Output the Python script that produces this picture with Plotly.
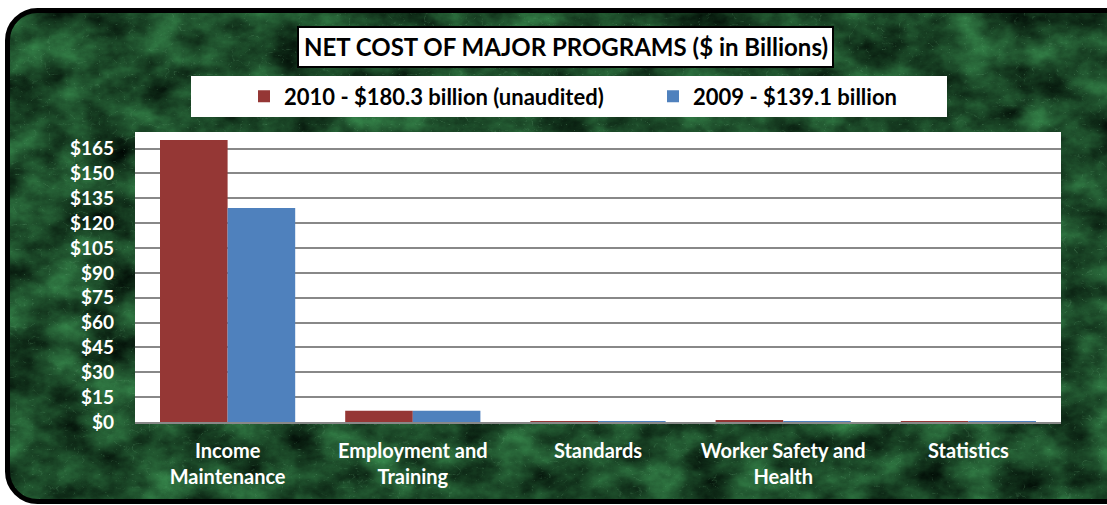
import base64
import plotly.graph_objects as go

# Net cost of the major programs, $ billions
categories = ["Income<br>Maintenance", "Employment and<br>Training", "Standards",
              "Worker Safety and<br>Health", "Statistics"]
cost_2010 = [170.1, 6.8, 0.2, 0.8, 0.1]
cost_2009 = [129.1, 6.8, 0.2, 0.2, 0.1]
series_names = ["2010 - $180.3 billion (unaudited)", "2009 - $139.1 billion"]
tick_values = [0, 15, 30, 45, 60, 75, 90, 105, 120, 135, 150, 165]
tick_labels = ["$0", "$15", "$30", "$45", "$60", "$75", "$90", "$105", "$120", "$135", "$150", "$165"]

W, H = 1107, 505
L, R, T, B = 135, 46, 132, 83
PW, PH = W - L - R, H - T - B
FONT = "Lato"


def px(x):
    return (x - L) / PW


def py(y):
    return (H - B - y) / PH


# Green marble backdrop inside a rounded black frame
marble_svg = f"""<svg xmlns='http://www.w3.org/2000/svg' width='{W}' height='{H}'>
<defs>
<filter id='m' x='0' y='0' width='100%' height='100%' color-interpolation-filters='sRGB'>
<feTurbulence type='fractalNoise' baseFrequency='0.022 0.03' numOctaves='6' seed='11' result='n1'/>
<feColorMatrix in='n1' type='matrix' values='0.26 0 0 0 -0.02  0.6 0 0 0 -0.01  0.34 0 0 0 -0.01  0 0 0 0 1' result='base'/>
<feTurbulence type='turbulence' baseFrequency='0.06 0.08' numOctaves='4' seed='5' result='n2'/>
<feColorMatrix in='n2' type='matrix' values='0 0 0 0 0.40  0 0 0 0 0.64  0 0 0 0 0.46  -2.6 0 0 0 0.32' result='veins'/>
<feComposite in='veins' in2='base' operator='over'/>
</filter>
<clipPath id='c'><rect x='7.5' y='10.5' width='1130' height='491' rx='30'/></clipPath>
</defs>
<rect x='0' y='0' width='{W}' height='{H}' filter='url(#m)' clip-path='url(#c)'/>
<rect x='7.5' y='10.5' width='1130' height='491' rx='30' fill='none' stroke='black' stroke-width='5'/>
</svg>"""
marble_uri = "data:image/svg+xml;base64," + base64.b64encode(marble_svg.encode()).decode()

fig = go.Figure()
fig.add_trace(go.Bar(x=categories, y=cost_2010, name=series_names[0],
                     marker=dict(color="#953735", line=dict(width=0))))
fig.add_trace(go.Bar(x=categories, y=cost_2009, name=series_names[1],
                     marker=dict(color="#4F81BD", line=dict(width=0))))

fig.update_layout(
    width=W, height=H,
    margin=dict(l=L, r=R, t=T, b=B, pad=0),
    paper_bgcolor="white",
    plot_bgcolor="rgba(0,0,0,0)",
    barmode="group", bargap=0.27, bargroupgap=0,
    font=dict(family=FONT, color="white"),
    showlegend=True,
    legend=dict(orientation="h", x=px(244), y=py(96.5), xanchor="left", yanchor="middle",
                bgcolor="rgba(0,0,0,0)", font=dict(family=FONT, size=22, color="black", weight="bold"),
                entrywidth=364, entrywidthmode="pixels", traceorder="normal"),
    images=[dict(source=marble_uri, xref="paper", yref="paper",
                 x=px(0), y=py(0), sizex=W / PW, sizey=H / PH,
                 xanchor="left", yanchor="top", sizing="stretch", layer="below")],
    shapes=[
        dict(type="rect", xref="paper", yref="paper", x0=0, x1=1, y0=0, y1=1,
             fillcolor="white", line=dict(width=0), layer="below"),
        dict(type="rect", xref="paper", yref="paper", x0=px(298), x1=px(833), y0=py(67), y1=py(27),
             fillcolor="white", line=dict(color="black", width=2), layer="below"),
        dict(type="rect", xref="paper", yref="paper", x0=px(191), x1=px(947), y0=py(117), y1=py(76),
             fillcolor="white", line=dict(width=0), layer="below"),
    ],
    annotations=[dict(text="NET COST OF MAJOR PROGRAMS ($ in Billions)", xref="paper", yref="paper",
                      x=px(565.5), y=py(47), xanchor="center", yanchor="middle", showarrow=False,
                      font=dict(family=FONT, size=24, color="black", weight="bold"))],
)

fig.update_yaxes(range=[0, 175], tickmode="array", tickvals=tick_values, ticktext=tick_labels,
                 showgrid=True, gridcolor="#888888", gridwidth=2,
                 zeroline=False, showline=False, ticks="",
                 ticklabelstandoff=20,
                 tickfont=dict(family=FONT, size=19, color="white", weight="bold"))
fig.update_xaxes(showline=True, linecolor="#888888", linewidth=2, ticks="",
                 ticklabelstandoff=10,
                 tickfont=dict(family=FONT, size=20, color="white", weight="bold"))

fig.write_html("out.html")
